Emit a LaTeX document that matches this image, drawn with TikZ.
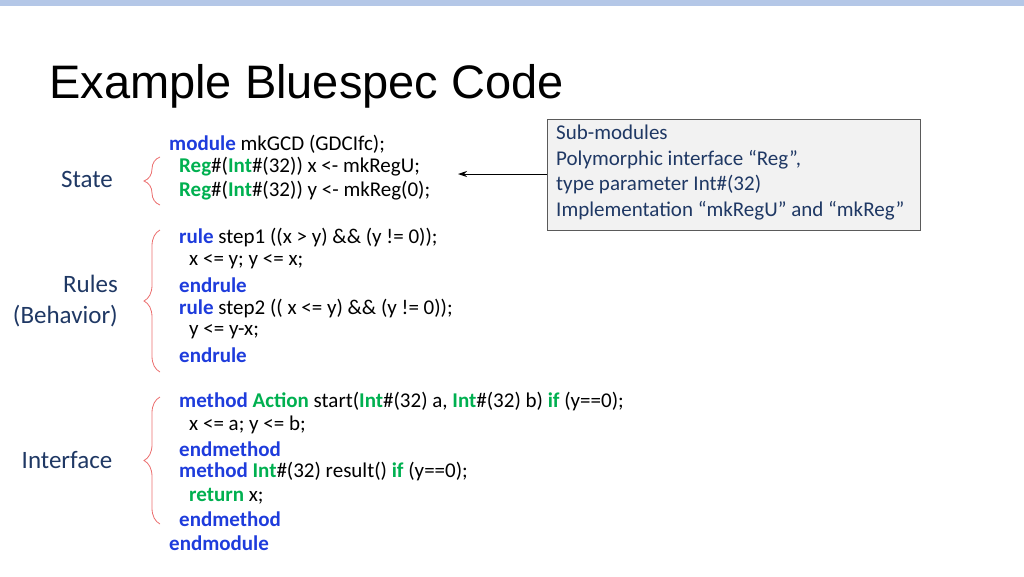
\documentclass[tikz,border=0pt]{standalone}
\usepackage{fontspec}
\setmainfont{Carlito}
\newfontfamily\arialf{Liberation Sans}
\usetikzlibrary{decorations.pathreplacing,arrows.meta}
\definecolor{kw}{RGB}{30,60,220}
\definecolor{gr}{RGB}{0,176,80}
\definecolor{lab}{RGB}{31,56,100}
\definecolor{brc}{RGB}{235,110,110}
\newcommand{\K}[1]{\textbf{\textcolor{kw}{#1}}}
\newcommand{\G}[1]{\textbf{\textcolor{gr}{#1}}}
\begin{document}
\begin{tikzpicture}[x=1pt,y=-1pt,
  code/.style={anchor=west,inner sep=0pt,font=\fontsize{21}{22}\selectfont},
  lbl/.style={text=lab,font=\fontsize{25}{31}\selectfont,align=right,inner sep=0pt},
  brc/.style={draw=brc,line width=0.8pt,decorate,decoration={brace,amplitude=16pt,aspect=0.5}}]
\useasboundingbox (0,0) rectangle (1024,576);
\fill[color={rgb,255:red,180;green,199;blue,231}] (0,0) rectangle (1024,6);
\node[anchor=west,inner sep=0pt,font=\arialf\fontsize{47}{50}\selectfont] (title) at (49,86) {Example Bluespec Code};
% code
\node[code] (l1) at (169,144) {\K{module} mkGCD (GDCIfc);};
\node[code] (l2) at (179,167) {\G{Reg}\#(\G{Int}\#(32)) x <- mkRegU;};
\node[code] (l3) at (179,191) {\G{Reg}\#(\G{Int}\#(32)) y <- mkReg(0);};
\node[code] (l4) at (179,238) {\K{rule} step1 ((x > y) \&\& (y != 0));};
\node[code] (l5) at (189,262) {x <= y; y <= x;};
\node[code] (l6) at (179,285) {\K{endrule}};
\node[code] (l7) at (179,309) {\K{rule} step2 (( x <= y) \&\& (y != 0));};
\node[code] (l8) at (189,332) {y <= y-x;};
\node[code] (l9) at (179,355) {\K{endrule}};
\node[code] (m1) at (179,402) {\K{method} \G{Action} start(\G{Int}\#(32) a, \G{Int}\#(32) b) \G{if} (y==0);};
\node[code] (m2) at (189,425) {x <= a; y <= b;};
\node[code] (m3) at (179,449) {\K{endmethod}};
\node[code] (m4) at (179,472) {\K{method} \G{Int}\#(32) result() \G{if} (y==0);};
\node[code] (m5) at (189,496) {\G{return} x;};
\node[code] (m6) at (179,519) {\K{endmethod}};
\node[code] (m7) at (169,543) {\K{endmodule}};
% braces
\coordinate (b1t) at (160,157); \coordinate (b1b) at (160,205);
\coordinate (b2t) at (160,230); \coordinate (b2b) at (160,372);
\coordinate (b3t) at (160,397); \coordinate (b3b) at (160,524);
\draw[brc] (b1b) -- (b1t);
\draw[brc] (b2b) -- (b2t);
\draw[brc] (b3b) -- (b3t);
% labels
\node[lbl] (st) at (87,179) {State};
\node[lbl,anchor=east] (ru) at (118,301) {Rules\\(Behavior)};
\node[lbl] (it) at (67,460) {Interface};
% box
\node[draw={rgb,255:red,90;green,90;blue,90},fill={rgb,255:red,242;green,242;blue,242},line width=0.8pt,
  minimum width=373pt,minimum height=111pt,anchor=north west,inner sep=0pt] (box) at (547,119) {};
\node[anchor=north west,inner sep=0pt,text=lab,align=left,font=\fontsize{21}{25.6}\selectfont] (bt) at (556,125)
 {Sub-modules\\Polymorphic interface “Reg”,\\type parameter Int\#(32)\\Implementation “mkRegU” and “mkReg”};
\coordinate (ae) at (458,174);
\draw[-{Stealth[length=9pt,width=6pt]},line width=1pt] (box.west |- ae) -- (ae);
\end{tikzpicture}
\end{document}
